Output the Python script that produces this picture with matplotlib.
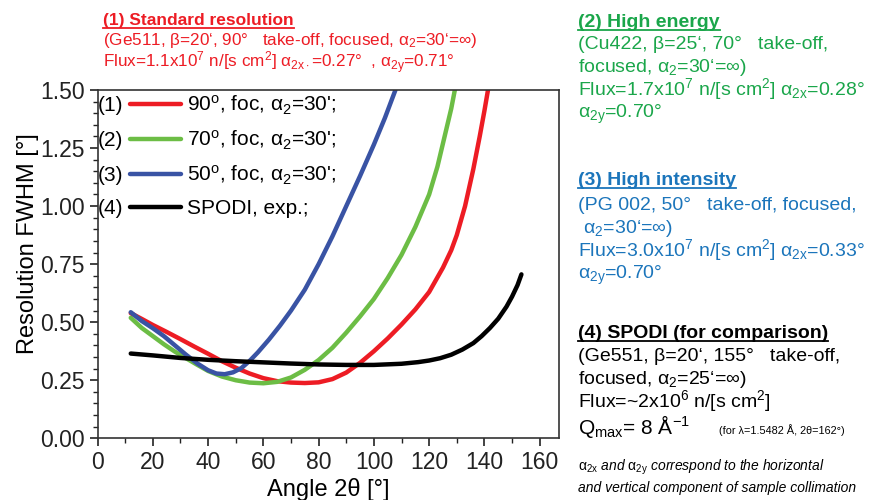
import numpy as np
import matplotlib
matplotlib.use("Agg")
import matplotlib.pyplot as plt
from matplotlib.ticker import MultipleLocator, FormatStrFormatter
from matplotlib.lines import Line2D

plt.rcParams['font.family'] = ['Liberation Sans', 'DejaVu Sans']
plt.rcParams['mathtext.fontset'] = 'custom'
plt.rcParams['mathtext.rm'] = 'Liberation Sans'
plt.rcParams['mathtext.it'] = 'Liberation Sans:italic'
plt.rcParams['mathtext.bf'] = 'Liberation Sans:bold'

# values (2theta in deg, FWHM in deg)
red_x = [12, 16, 20, 25, 30, 35, 40, 45, 50, 55, 60, 65, 70, 75, 80, 85, 90, 95, 100, 105, 110, 115,
         120, 125, 128, 130, 133, 136, 138.3, 140, 141.3]
red_y = [0.539, 0.514, 0.488, 0.458, 0.427, 0.395, 0.364, 0.332, 0.304, 0.279, 0.259, 0.246, 0.240, 0.238,
         0.241, 0.255, 0.283, 0.325, 0.375, 0.43, 0.49, 0.555, 0.63, 0.735, 0.81, 0.875, 1.00, 1.16, 1.30,
         1.41, 1.50]

green_x = [12, 16, 20, 24, 28, 32, 36, 40, 45, 50, 55, 60, 65, 70, 75, 80, 85, 90, 95, 100, 105, 110,
           115, 120, 123, 126, 128, 129.3]
green_y = [0.519, 0.475, 0.44, 0.405, 0.373, 0.345, 0.317, 0.29, 0.266, 0.25, 0.24, 0.237, 0.243, 0.262,
           0.295, 0.337, 0.39, 0.455, 0.525, 0.60, 0.69, 0.79, 0.91, 1.05, 1.17, 1.32, 1.42, 1.50]

blue_x = [12, 16, 20, 24, 28, 32, 36, 40, 43, 46, 49, 52, 55, 58, 62, 66, 70, 75, 80, 85, 90, 95, 100,
          104, 107.8]
blue_y = [0.543, 0.505, 0.474, 0.44, 0.40, 0.36, 0.323, 0.293, 0.279, 0.276, 0.284, 0.302, 0.333, 0.37,
          0.425, 0.485, 0.55, 0.64, 0.75, 0.87, 1.00, 1.13, 1.265, 1.38, 1.50]

black_x = [12, 20, 30, 40, 50, 60, 70, 80, 90, 100, 110, 116, 120, 124, 128, 132, 136, 139, 142, 145,
           148, 150, 152, 153.4]
black_y = [0.365, 0.357, 0.346, 0.338, 0.332, 0.327, 0.322, 0.318, 0.316, 0.316, 0.321, 0.328, 0.335,
           0.345, 0.36, 0.382, 0.41, 0.44, 0.475, 0.515, 0.567, 0.61, 0.66, 0.706]

labels = ["90$^\\mathrm{o}$, foc, $\\mathrm{\\alpha_2}$=30';",
          "70$^\\mathrm{o}$, foc, $\\mathrm{\\alpha_2}$=30';",
          "50$^\\mathrm{o}$, foc, $\\mathrm{\\alpha_2}$=30';",
          "SPODI, exp.;"]
numbers = ["(1)", "(2)", "(3)", "(4)"]
line_colors = ["#ed1c24", "#6cbd45", "#3953a4", "black"]

RED = "#ed1c24"
GREEN = "#1aa64a"
BLUE = "#1b75bb"

W, H = 876, 500
fig = plt.figure(figsize=(W / 100, H / 100), dpi=100)
ax = fig.add_axes([97.6 / W, 1 - 438.3 / H, (559 - 97.6) / W, (438.3 - 90) / H])

series = [(red_x, red_y), (green_x, green_y), (blue_x, blue_y), (black_x, black_y)]
for (xs, ys), c, lab in zip(series, line_colors, labels):
    ax.plot(xs, ys, color=c, lw=3.2, solid_capstyle='round', solid_joinstyle='round', label=lab)

ax.set_xlim(0, 167)
ax.set_ylim(0, 1.5)
ax.set_xticks(np.arange(0, 161, 20))
ax.set_yticks(np.arange(0, 1.51, 0.25))
ax.xaxis.set_minor_locator(MultipleLocator(10))
ax.yaxis.set_minor_locator(MultipleLocator(0.05))
ax.yaxis.set_major_formatter(FormatStrFormatter('%.2f'))
ax.tick_params(which='major', direction='out', length=6, width=1.2, labelsize=16.5, pad=3, colors='#222222')
ax.tick_params(which='minor', direction='out', length=3.5, width=1.0, colors='#222222')
for s in ax.spines.values():
    s.set_linewidth(1.2)
    s.set_color('#333333')

ax.set_xlabel("Angle 2θ [°]", fontsize=17, labelpad=3)
ax.set_ylabel("Resolution FWHM [°]", fontsize=17)
ax.yaxis.set_label_coords(-0.128, 0.56)

leg = ax.legend(loc='upper left', bbox_to_anchor=((130 - 97.6) / 461.4, 0.99), frameon=False,
                fontsize=15, handlelength=2.45, handletextpad=0.3, labelspacing=0.57, borderpad=0,
                borderaxespad=0)
for h in leg.legend_handles:
    h.set_linewidth(3.2)


def ftext(x, y, s, **kw):
    return fig.text(x / W, 1 - y / H, s, va='baseline', ha='left', **kw)


underlined = []
BODY = 14
HEAD = 14

# (1) standard resolution, top
t = ftext(103, 25, "(1) Standard resolution", color=RED, fontsize=12.5, fontweight='bold')
underlined.append((t, RED))
ftext(103, 45, "(Ge511, β=20‘, 90°   take-off, focused, $\\mathrm{\\alpha_2}$=30‘=∞)", color=RED, fontsize=12.3)
ftext(103, 68, "Flux=1.1x10$^7$ n/[s cm$^2$] $\\mathrm{\\alpha_{2x\\cdot}}$=0.27°  , $\\mathrm{\\alpha_{2y}}$=0.71°",
      color=RED, fontsize=12.3)

# (2) high energy
t = ftext(578, 27, "(2) High energy", color=GREEN, fontsize=HEAD, fontweight='bold')
underlined.append((t, GREEN))
ftext(578, 49, "(Cu422, β=25‘, 70°   take-off,", color=GREEN, fontsize=BODY)
ftext(578, 72, "focused, $\\mathrm{\\alpha_2}$=30‘=∞)", color=GREEN, fontsize=BODY)
ftext(578, 95, "Flux=1.7x10$^7$ n/[s cm$^2$] $\\mathrm{\\alpha_{2x}}$=0.28°", color=GREEN, fontsize=BODY)
ftext(578, 118, "$\\mathrm{\\alpha_{2y}}$=0.70°", color=GREEN, fontsize=BODY)

# (3) high intensity
t = ftext(578, 185, "(3) High intensity", color=BLUE, fontsize=HEAD, fontweight='bold')
underlined.append((t, BLUE))
ftext(578, 210, "(PG 002, 50°   take-off, focused,", color=BLUE, fontsize=BODY)
ftext(578, 233, " $\\mathrm{\\alpha_2}$=30‘=∞)", color=BLUE, fontsize=BODY)
ftext(578, 256, "Flux=3.0x10$^7$ n/[s cm$^2$] $\\mathrm{\\alpha_{2x}}$=0.33°", color=BLUE, fontsize=BODY)
ftext(578, 279, "$\\mathrm{\\alpha_{2y}}$=0.70°", color=BLUE, fontsize=BODY)

# (4) SPODI
t = ftext(578, 338, "(4) SPODI (for comparison)", color='black', fontsize=HEAD, fontweight='bold')
underlined.append((t, 'black'))
ftext(578, 361, "(Ge551, β=20‘, 155°   take-off,", fontsize=BODY)
ftext(578, 384, "focused, $\\mathrm{\\alpha_2}$=25‘=∞)", fontsize=BODY)
ftext(578, 407, "Flux=~2x10$^6$ n/[s cm$^2$]", fontsize=BODY)
ftext(578, 434, "Q$_{\\mathrm{max}}$= 8 Å$^{-1}$", fontsize=15)
ftext(719, 434, "(for λ=1.5482 Å, 2θ=162°)", fontsize=7.8)
ftext(578, 471, "$\\mathrm{\\alpha_{2x}}$ and $\\mathrm{\\alpha_{2y}}$ correspond to the horizontal",
      fontsize=10, style='italic')
ftext(578, 492, "and vertical component of sample collimation", fontsize=10, style='italic')

fig.canvas.draw()
r = fig.canvas.get_renderer()

# "(n)" numbers in front of legend handles
for txt, num in zip(leg.get_texts(), numbers):
    bb = txt.get_window_extent(r)
    yc = (bb.y0 + bb.y1) / 2
    fig.text(98 / W, yc / H, num, fontsize=15, va='center', ha='left')

# underline headers
for t, c in underlined:
    bb = t.get_window_extent(r)
    x, y = t.get_position()
    yl = y * H - 3
    fig.add_artist(Line2D([bb.x0 / W, bb.x1 / W], [yl / H, yl / H], transform=fig.transFigure,
                          color=c, lw=1.3))

fig.savefig("out.png", dpi=100)
